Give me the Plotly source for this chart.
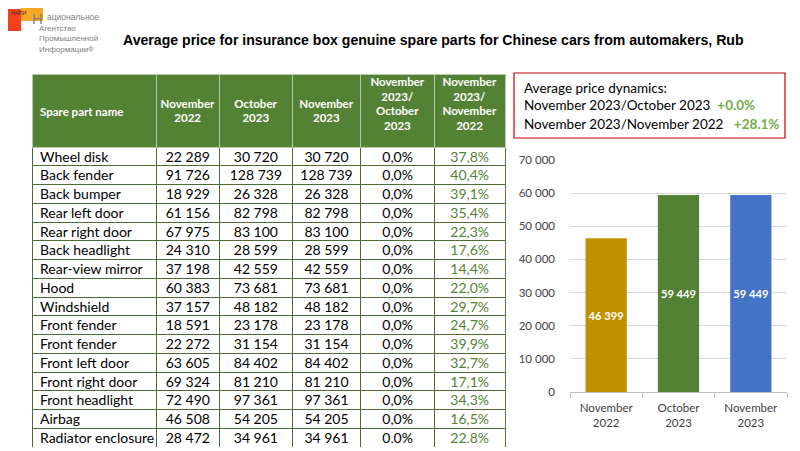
import plotly.graph_objects as go

# Data
parts = ['Wheel disk', 'Back fender', 'Back bumper', 'Rear left door', 'Rear right door',
         'Back headlight', 'Rear-view mirror', 'Hood', 'Windshield', 'Front fender',
         'Front fender', 'Front left door', 'Front right door', 'Front headlight',
         'Airbag', 'Radiator enclosure']
nov_2022 = [22289, 91726, 18929, 61156, 67975, 24310, 37198, 60383, 37157, 18591,
            22272, 63605, 69324, 72490, 46508, 28472]
oct_2023 = [30720, 128739, 26328, 82798, 83100, 28599, 42559, 73681, 48182, 23178,
            31154, 84402, 81210, 97361, 54205, 34961]
nov_2023 = [30720, 128739, 26328, 82798, 83100, 28599, 42559, 73681, 48182, 23178,
            31154, 84402, 81210, 97361, 54205, 34961]
chg_month = [0.0] * 16
chg_year = [37.8, 40.4, 39.1, 35.4, 22.3, 17.6, 14.4, 22.0, 29.7, 24.7,
            39.9, 32.7, 17.1, 34.3, 16.5, 22.8]

headers = ['Spare part name', 'November<br>2022', 'October<br>2023', 'November<br>2023',
           'November<br>2023/<br>October<br>2023', 'November<br>2023/<br>November<br>2022']

bar_labels = ['November<br>2022', 'October<br>2023', 'November<br>2023']
bar_values = [46399, 59449, 59449]
bar_colors = ['#BF9000', '#548235', '#4472C4']

dyn_month = '+0.0%'
dyn_year = '+28.1%'

# the page body has an 8px margin, so the figure is drawn 8px in from the corner
OFF = 8
W, H = 800 - OFF, 451 - OFF
NBSP = '\u00a0'
CLEAR = 'rgba(0,0,0,0)'

col_w = [123, 63, 72, 68, 73, 70]
aligns = ['left', 'center', 'center', 'center', 'center', 'center']
TBL_X0, TBL_X1 = 32, 505
HEAD_TOP, HEAD_H, ROW_H = 74, 73, 18.75
TBL_BOTTOM = HEAD_TOP + HEAD_H + ROW_H * len(parts)


def fmt_num(v):
    return f'{v:,}'.replace(',', NBSP)


def fmt_pct(v):
    return f'{v:.1f}%'.replace('.', ',')


def px_x(x):
    return (x - OFF) / W


def px_y(y):
    return 1 - (y - OFF) / H


def tbl_domain(top, bottom):
    return dict(x=[px_x(TBL_X0), px_x(TBL_X1)], y=[max(0, px_y(bottom)), px_y(top)])


fig = go.Figure()

# grid: header fill + cell borders
fig.add_trace(go.Table(
    domain=tbl_domain(HEAD_TOP, TBL_BOTTOM),
    columnwidth=col_w,
    header=dict(values=[''] * 6, fill_color='#548235',
                line=dict(color='#b9c9ad', width=1), height=HEAD_H),
    cells=dict(values=[[''] * len(parts)] * 6, fill_color='white',
               line=dict(color='#4e6b35', width=1), height=ROW_H),
    hoverinfo='skip',
))

# body text (plotly puts text low in the row, so this layer sits a few px higher)
TXT_SHIFT = 4
fig.add_trace(go.Table(
    domain=tbl_domain(HEAD_TOP - TXT_SHIFT, TBL_BOTTOM - TXT_SHIFT),
    columnwidth=col_w,
    header=dict(values=[''] * 6, fill_color=CLEAR, line=dict(color=CLEAR, width=0),
                height=HEAD_H),
    cells=dict(
        values=[[p.replace(' ', NBSP) for p in parts],
                [fmt_num(v) for v in nov_2022],
                [fmt_num(v) for v in oct_2023],
                [fmt_num(v) for v in nov_2023],
                [fmt_pct(v) for v in chg_month],
                [fmt_pct(v) for v in chg_year]],
        fill_color=CLEAR,
        line=dict(color=CLEAR, width=0),
        font=dict(family='Lato, sans-serif', size=14,
                  color=['black', 'black', 'black', 'black', 'black', '#548235']),
        align=aligns,
        height=ROW_H,
    ),
))

# header text: one layer per text line so every line is centred on its own
PITCH = 14.7
LINE_OFF = 15.0
head_mid = {1: 112, 2: 111, 4: 104}
layers = {}
for i, h in enumerate(headers):
    lines = h.split('<br>')
    n = len(lines)
    for k, line in enumerate(lines):
        cy = head_mid[n] + (k - (n - 1) / 2) * PITCH
        top = round(cy - LINE_OFF, 1)
        layers.setdefault(top, [''] * len(headers))[i] = '<b>' + line + '</b>'

for top, vals in layers.items():
    fig.add_trace(go.Table(
        domain=tbl_domain(top, TBL_BOTTOM),
        columnwidth=col_w,
        header=dict(values=vals, fill_color=CLEAR, line=dict(color=CLEAR, width=0),
                    font=dict(family='Lato, sans-serif', size=11.5, color='white'),
                    align=aligns, height=10),
        cells=dict(values=[]),
    ))

fig.add_trace(go.Bar(
    x=bar_labels, y=bar_values,
    marker=dict(color=bar_colors, line=dict(width=0)),
    width=0.57,
    text=[fmt_num(v) for v in bar_values],
    textposition='inside', insidetextanchor='middle', textangle=0,
    textfont=dict(family='Lato, sans-serif', size=14, color='white'),
    texttemplate='<b>%{text}</b>',
    showlegend=False,
))

fig.update_xaxes(domain=[px_x(570), px_x(787)], showline=True, linecolor='#bfbfbf',
                 ticks='outside', tickson='boundaries', tickcolor='#bfbfbf', ticklen=5,
                 ticklabelstandoff=5,
                 tickfont=dict(family='Lato, sans-serif', size=11.5, color='#404040'),
                 automargin=False, fixedrange=True)
fig.update_yaxes(domain=[px_y(392), px_y(160)], range=[0, 70000], dtick=10000,
                 showgrid=True, gridcolor='#d9d9d9', zeroline=False,
                 tickformat=',d', ticklabelstandoff=14,
                 tickfont=dict(family='Lato, sans-serif', size=11.5, color='#404040'),
                 automargin=False, fixedrange=True)

# title
fig.add_annotation(text='<b>Average price for insurance box genuine spare parts for Chinese cars from automakers, Rub</b>',
                   xref='paper', yref='paper', x=px_x(433), y=px_y(40),
                   xanchor='center', yanchor='middle', showarrow=False,
                   font=dict(family='Arial, Liberation Sans', size=14.1, color='black'))

# dynamics box
fig.add_shape(type='rect', xref='paper', yref='paper',
              x0=px_x(514), x1=px_x(785), y0=px_y(138), y1=px_y(73),
              line=dict(color='#c00000', width=1.2), fillcolor='white')
box_lines = [
    ('Average price dynamics:', 88),
    ('November 2023/October 2023  <b><span style="color:#70AD47">' + dyn_month + '</span></b>', 105),
    ('November 2023/November 2022   <b><span style="color:#70AD47">' + dyn_year + '</span></b>', 124),
]
for txt, yy in box_lines:
    fig.add_annotation(text=txt, xref='paper', yref='paper', x=px_x(522), y=px_y(yy),
                       xanchor='left', yanchor='middle', showarrow=False,
                       font=dict(family='Lato, sans-serif', size=13.5, color='black'))

# logo
fig.add_shape(type='rect', xref='paper', yref='paper', x0=0, x1=px_x(21),
              y0=px_y(31), y1=px_y(9), fillcolor='#f5401e', line=dict(width=0), layer='below')
fig.add_shape(type='rect', xref='paper', yref='paper', x0=px_x(21), x1=px_x(43),
              y0=px_y(21), y1=1, fillcolor='#f7a823', line=dict(width=0), layer='below')
fig.add_annotation(text='НАПИ', xref='paper', yref='paper', x=px_x(9), y=1,
                   xanchor='left', yanchor='top', showarrow=False,
                   font=dict(family='Arial', size=5.5, color='#333333'))
fig.add_annotation(text='Н', xref='paper', yref='paper', x=px_x(45), y=1,
                   xanchor='right', yanchor='top', showarrow=False,
                   font=dict(family='Arial', size=15, color='#808080'))
fig.add_annotation(text='ациональное', xref='paper', yref='paper', x=px_x(45), y=px_y(17),
                   xanchor='left', yanchor='middle', showarrow=False,
                   font=dict(family='Arial', size=8.5, color='#808080'))
fig.add_annotation(text='Агентство<br>Промышленной<br>Информации®',
                   xref='paper', yref='paper', x=px_x(37), y=px_y(21.5),
                   xanchor='left', yanchor='top', align='left', showarrow=False,
                   font=dict(family='Arial', size=8, color='#808080'))

fig.update_layout(width=W, height=H, margin=dict(l=0, r=0, t=0, b=0),
                  paper_bgcolor='white', plot_bgcolor='white',
                  font=dict(family='Lato, sans-serif'),
                  separators=', ')

fig.write_html('out.html')
